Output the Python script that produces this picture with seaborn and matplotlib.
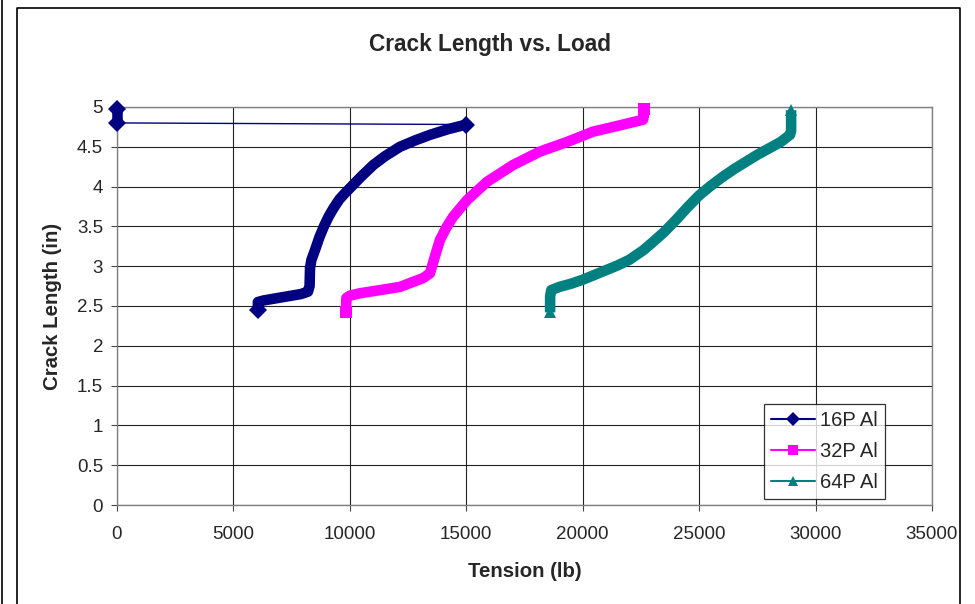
import numpy as np
import pandas as pd
import matplotlib
matplotlib.use("Agg")
import matplotlib.pyplot as plt
import seaborn as sns
from matplotlib.lines import Line2D
from matplotlib.ticker import FuncFormatter

# ---------------- data ----------------
series_names = ["16P Al", "32P Al", "64P Al"]
series_colors = ["#000080", "#FF00FF", "#008080"]
series_markers = ["D", "s", "^"]

load_16 = [6050, 6050, 6300, 6700, 7100, 7500, 7900, 8200, 8270, 8290, 8350, 8500,
           8700, 8900, 9100, 9300, 9550, 9800, 10000, 10500, 11000, 11500, 12150,
           12800, 13440, 14200, 15000, 0, 0]
crack_16 = [2.45, 2.55, 2.57, 2.59, 2.61, 2.63, 2.65, 2.68, 2.75, 2.98, 3.08, 3.20,
            3.37, 3.51, 3.63, 3.73, 3.84, 3.92, 3.98, 4.13, 4.27, 4.38, 4.50,
            4.58, 4.65, 4.72, 4.78, 4.80, 4.97]
seg_16 = [0] * 27 + [1, 1]

load_32 = [9830, 9850, 10000, 10430, 11300, 12150, 13140, 13440, 13650, 13870, 14150,
           14430, 15030, 15890, 17000, 18160, 19320, 20440, 21600, 22590, 22620, 22620]
crack_32 = [2.42, 2.60, 2.63, 2.66, 2.70, 2.74, 2.85, 2.91, 3.12, 3.33, 3.49,
            3.62, 3.83, 4.06, 4.27, 4.44, 4.56, 4.69, 4.77, 4.84, 4.88, 4.98]
seg_32 = [0] * len(load_32)

load_64 = [18600, 18600, 18650, 19000, 19500, 20000, 20500, 21000, 21500, 22000, 22600,
           23000, 23500, 24000, 24500, 25000, 25500, 26000, 26500, 27000, 27500, 28000,
           28500, 28900, 28950, 28950]
crack_64 = [2.42, 2.62, 2.70, 2.74, 2.78, 2.83, 2.89, 2.95, 3.01, 3.08, 3.20,
            3.30, 3.43, 3.58, 3.74, 3.89, 4.01, 4.12, 4.22, 4.31, 4.40, 4.48,
            4.56, 4.65, 4.70, 4.96]
seg_64 = [0] * len(load_64)

x_ticks = [0, 5000, 10000, 15000, 20000, 25000, 30000, 35000]
y_ticks = [0, 0.5, 1, 1.5, 2, 2.5, 3, 3.5, 4, 4.5, 5]

title_text = "Crack Length vs. Load"
x_label = "Tension (lb)"
y_label = "Crack Length (in)"

# ---------------- style ----------------
sns.set_style("white")
plt.rcParams['font.family'] = ['Liberation Sans', 'DejaVu Sans']

fig = plt.figure(figsize=(9.75, 6.04), dpi=100)
ax = fig.add_axes([117 / 975, 1 - 505 / 604, (932 - 117) / 975, 398 / 604])

all_series = [
    (load_16, crack_16, seg_16),
    (load_32, crack_32, seg_32),
    (load_64, crack_64, seg_64),
]

for (xs, ys, segs), name, col, mk in zip(all_series, series_names, series_colors, series_markers):
    df = pd.DataFrame({"load": xs, "crack": ys, "seg": segs})
    # thin connecting line (Excel style)
    sns.lineplot(data=df, x="load", y="crack", sort=False, estimator=None,
                 color=col, lw=1.0, ax=ax, legend=False, clip_on=False, zorder=3)
    # dense marker band
    sns.lineplot(data=df, x="load", y="crack", units="seg", sort=False, estimator=None,
                 color=col, lw=7.6, marker=mk, markersize=9, markeredgewidth=0,
                 markevery=[0, -1],
                 ax=ax, legend=False, clip_on=False, zorder=4,
                 solid_capstyle="butt", solid_joinstyle="round")

ax.set_xlim(0, 35000)
ax.set_ylim(0, 5)
ax.set_xticks(x_ticks)
ax.set_yticks(y_ticks)
ax.xaxis.set_major_formatter(FuncFormatter(lambda v, p: f"{int(v)}"))
ax.yaxis.set_major_formatter(FuncFormatter(lambda v, p: f"{v:g}"))
ax.grid(True, color="#222222", lw=0.8, zorder=0)
ax.set_axisbelow(True)
for s in ax.spines.values():
    s.set_color("#808080")
    s.set_linewidth(1.0)
ax.tick_params(axis="both", direction="out", length=4, width=0.8, color="#444444",
               labelsize=13.5, pad=6, bottom=True, left=True)
ax.tick_params(axis="x", pad=11)

ax.set_xlabel(x_label, fontsize=14.7, fontweight="bold", labelpad=14)
ax.set_ylabel(y_label, fontsize=14.7, fontweight="bold", labelpad=11)
fig.text(490 / 975, 1 - 45 / 604, title_text, ha="center", va="center",
         fontsize=16.3, fontweight="bold")

handles = [Line2D([0], [0], color=c, lw=1.5, marker=m, markersize=7.5, markeredgewidth=0)
           for c, m in zip(series_colors, series_markers)]
leg = ax.legend(handles, series_names, loc="lower left", bbox_to_anchor=(0.794, 0.015),
                frameon=True, fancybox=False, edgecolor="black", fontsize=14.5,
                handlelength=2.2, handletextpad=0.25, labelspacing=0.6,
                borderpad=0.35, borderaxespad=0)
leg.get_frame().set_linewidth(0.9)
leg.set_zorder(10)

# outer chart borders
fig.add_artist(Line2D([1.5 / 975, 1.5 / 975], [0, 1], transform=fig.transFigure,
                      color="black", lw=1.2))
fig.add_artist(Line2D([17 / 975, 17 / 975, 960 / 975, 960 / 975],
                      [0, 1 - 8 / 604, 1 - 8 / 604, 0], transform=fig.transFigure,
                      color="black", lw=1.2))

fig.savefig("out.png", dpi=100)
